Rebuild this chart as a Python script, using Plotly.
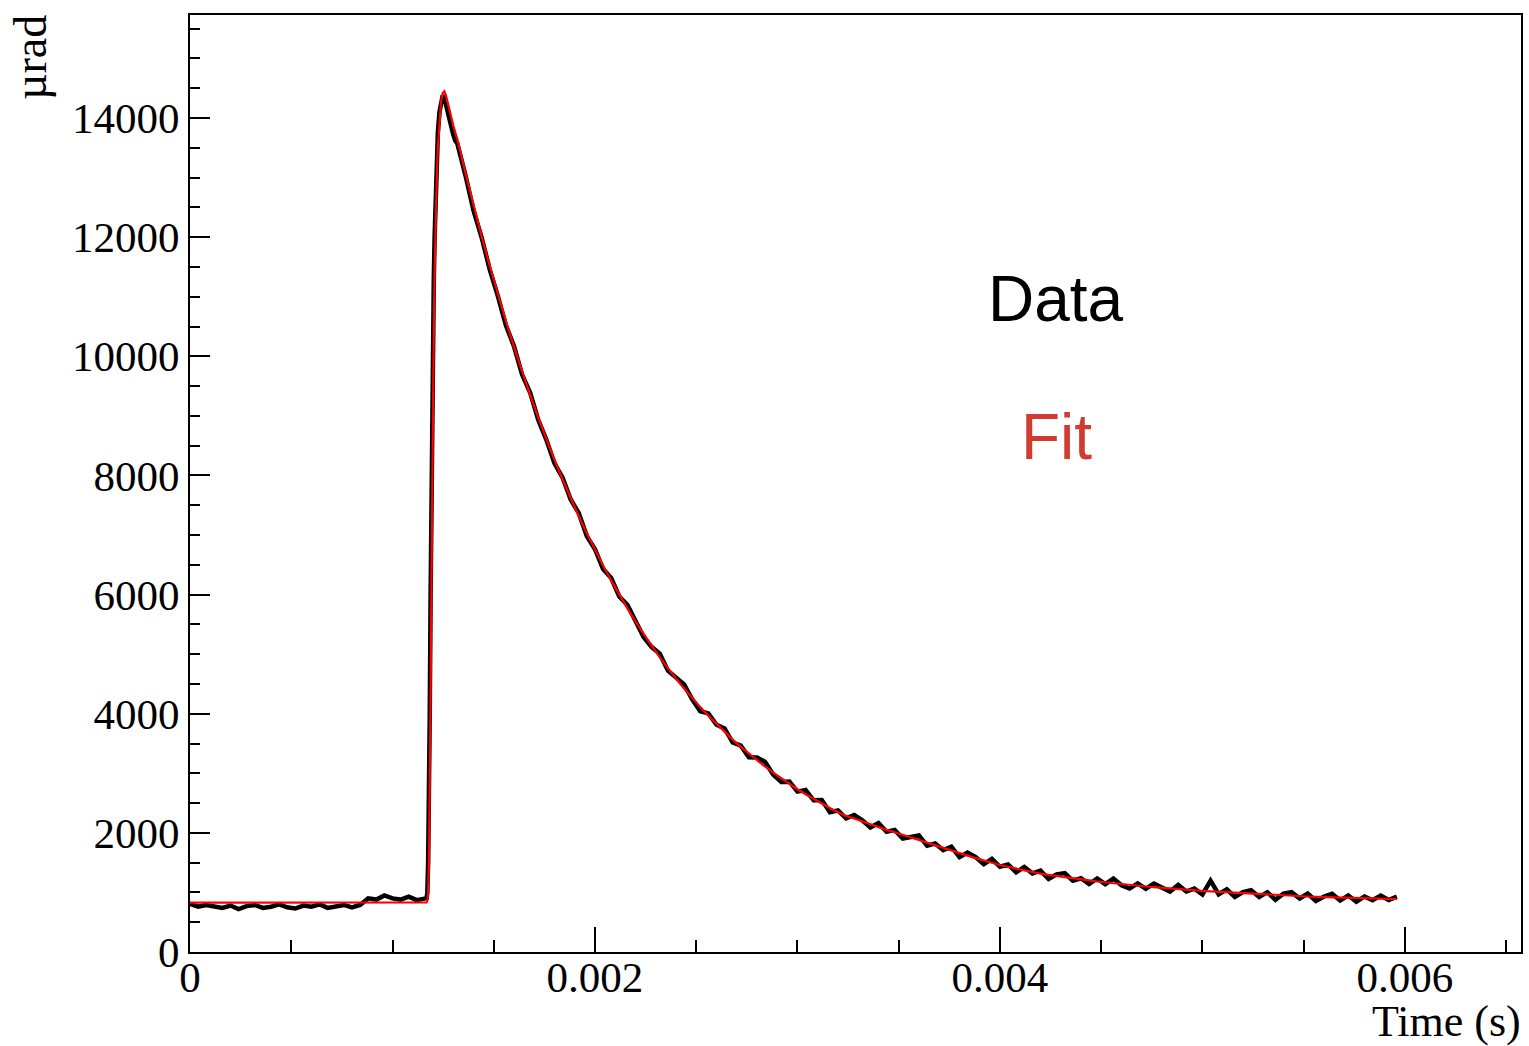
import plotly.graph_objects as go

# time grid in microseconds
time_us = [
    0, 40, 80, 120, 160, 200, 240, 280, 320, 360, 400, 440, 480, 520, 560, 600,
    640, 680, 720, 760, 800, 840, 880, 920, 960, 1000, 1040, 1080, 1120, 1160,
    1164, 1168, 1172, 1176, 1180, 1184, 1188, 1192, 1196, 1200, 1204, 1208, 1212,
    1218, 1224, 1232, 1240, 1248, 1256, 1264, 1272, 1280, 1290, 1300, 1310,
    1320, 1360, 1400, 1440, 1480, 1520, 1560, 1600, 1640, 1680, 1720, 1760, 1800,
    1840, 1880, 1920, 1960, 2000, 2040, 2080, 2120, 2160, 2200, 2240, 2280, 2320,
    2360, 2400, 2440, 2480, 2520, 2560, 2600, 2640, 2680, 2720, 2760, 2800, 2840,
    2880, 2920, 2960, 3000, 3040, 3080, 3120, 3160, 3200, 3240, 3280, 3320, 3360,
    3400, 3440, 3480, 3520, 3560, 3600, 3640, 3680, 3720, 3760, 3800, 3840, 3880,
    3920, 3960, 4000, 4040, 4080, 4120, 4160, 4200, 4240, 4280, 4320, 4360, 4400,
    4440, 4480, 4520, 4560, 4600, 4640, 4680, 4720, 4760, 4800, 4840, 4880, 4920,
    4960, 5000, 5040, 5080, 5120, 5160, 5200, 5240, 5280, 5320, 5360, 5400, 5440,
    5480, 5520, 5560, 5600, 5640, 5680, 5720, 5760, 5800, 5840, 5880, 5920, 5960,
]

data_urad = [
    810, 760, 790, 770, 740, 780, 720, 770, 790, 740, 760, 800, 750, 730, 780, 760,
    800, 740, 770, 790, 750, 790, 900, 880, 950, 900, 880, 930, 870, 910,
    900, 880, 1000, 1500, 2500, 4000, 5900, 7700, 9200, 10400, 11300, 12000, 12600,
    13250, 13750, 14100, 14300, 14380, 14340, 14220, 14080, 13960, 13850, 13720, 13620,
    13572, 13042, 12448, 11998, 11461, 11016, 10522, 10168, 9694, 9388, 8930, 8598, 8203,
    7963, 7597, 7366, 6978, 6762, 6429, 6278, 5968, 5828, 5569, 5289, 5119, 5007,
    4724, 4620, 4493, 4243, 4041, 4005, 3816, 3753, 3516, 3464, 3268, 3267, 3191,
    2980, 2853, 2860, 2692, 2718, 2547, 2550, 2346, 2376, 2245, 2300, 2210, 2090,
    2165, 2020, 2050, 1905, 1930, 1955, 1783, 1820, 1710, 1767, 1592, 1668, 1595,
    1474, 1564, 1431, 1469, 1338, 1426, 1320, 1367, 1225, 1304, 1325, 1196, 1238,
    1141, 1234, 1138, 1233, 1119, 1065, 1152, 1060, 1148, 1086, 1015, 1125, 1015,
    1065, 966, 1197, 969, 1051, 924, 1006, 1039, 922, 1004, 877, 980, 1004,
    898, 982, 857, 932, 977, 863, 949, 845, 932, 869, 946, 873, 930,
]

fit_urad = [
    828, 828, 828, 828, 828, 828, 828, 828, 828, 828, 828, 828, 828, 828, 828, 828,
    828, 828, 828, 828, 828, 828, 828, 828, 828, 828, 828, 828, 828, 828,
    828, 832, 860, 980, 1500, 2600, 4200, 6000, 7800, 9300, 10500, 11400, 12100,
    12900, 13500, 14000, 14280, 14420, 14450, 14380, 14260, 14140, 14010, 13880, 13760,
    13652, 13082, 12538, 12018, 11521, 11046, 10592, 10158, 9744, 9348, 8970, 8608, 8263,
    7933, 7617, 7316, 7028, 6752, 6489, 6238, 5998, 5768, 5549, 5339, 5139, 4947,
    4764, 4590, 4423, 4263, 4111, 3965, 3826, 3693, 3566, 3444, 3328, 3217, 3111,
    3010, 2913, 2820, 2732, 2648, 2567, 2490, 2416, 2346, 2285, 2240, 2190, 2140,
    2095, 2050, 2010, 1965, 1920, 1875, 1833, 1790, 1750, 1707, 1662, 1618, 1575,
    1534, 1494, 1461, 1429, 1398, 1366, 1340, 1317, 1295, 1274, 1255, 1236, 1218,
    1201, 1184, 1168, 1153, 1139, 1125, 1112, 1100, 1088, 1076, 1065, 1055, 1045,
    1035, 1026, 1017, 1009, 1001, 994, 986, 979, 972, 964, 957, 950, 944,
    938, 932, 927, 922, 917, 913, 909, 905, 902, 899, 896, 893, 890,
]

time_s = [t / 1e6 for t in time_us]

x_ticks = [0, 0.002, 0.004, 0.006]
x_tick_text = ["0", "0.002", "0.004", "0.006"]
y_ticks = [0, 2000, 4000, 6000, 8000, 10000, 12000, 14000]
y_tick_text = ["0", "2000", "4000", "6000", "8000", "10000", "12000", "14000"]

fig = go.Figure()
fig.add_trace(go.Scatter(x=time_s, y=data_urad, mode="lines",
                         line=dict(color="black", width=4.5), name="Data", hoverinfo="skip"))
fig.add_trace(go.Scatter(x=time_s, y=fit_urad, mode="lines",
                         line=dict(color="#ff0000", width=2.2), name="Fit", hoverinfo="skip"))

serif = "Liberation Serif, Times New Roman, serif"
tick_font = dict(family=serif, size=43, color="black")

fig.update_layout(
    width=1529, height=1046,
    margin=dict(l=190, r=8, t=15, b=94),
    paper_bgcolor="white", plot_bgcolor="white",
    showlegend=False,
    hovermode=False,
    xaxis=dict(
        range=[0, 0.006573], tickvals=x_ticks, ticktext=x_tick_text,
        ticks="inside", ticklen=25, tickwidth=2, tickcolor="black",
        minor=dict(dtick=0.0005, tick0=0, ticks="inside", ticklen=12, tickwidth=2, tickcolor="black"),
        showline=True, linecolor="black", linewidth=2, mirror=True,
        showgrid=False, zeroline=False, tickfont=tick_font, ticklabelstandoff=-14,
        automargin=False,
    ),
    yaxis=dict(
        range=[0, 15730], tickvals=y_ticks, ticktext=y_tick_text,
        ticks="inside", ticklen=20, tickwidth=2, tickcolor="black",
        minor=dict(dtick=500, tick0=0, ticks="inside", ticklen=10, tickwidth=2, tickcolor="black"),
        showline=True, linecolor="black", linewidth=2, mirror=True,
        showgrid=False, zeroline=False, tickfont=tick_font, automargin=False,
    ),
    annotations=[
        dict(text="µrad", xref="paper", yref="paper", x=0, y=1, xanchor="right", yanchor="top",
             xshift=-132, yshift=2, textangle=-90, showarrow=False,
             font=dict(family=serif, size=46, color="black")),
        dict(text="Time (s)", xref="paper", yref="paper", x=1, y=0, xanchor="right", yanchor="top",
             yshift=-43, xshift=2, showarrow=False,
             font=dict(family=serif, size=44, color="black")),
        dict(text="Data", xref="x", yref="y", x=0.004277, y=10960, xanchor="center", yanchor="middle",
             showarrow=False, font=dict(family="Liberation Sans, Arial, sans-serif", size=64, color="black")),
        dict(text="Fit", xref="x", yref="y", x=0.004277, y=8650, xanchor="center", yanchor="middle",
             showarrow=False, font=dict(family="Liberation Sans, Arial, sans-serif", size=64, color="#d03c32")),
    ],
)

fig.write_html(
    "out.html",
    config={"displayModeBar": False},
    post_script="document.body.style.margin='0px';document.body.style.overflow='hidden';",
)
